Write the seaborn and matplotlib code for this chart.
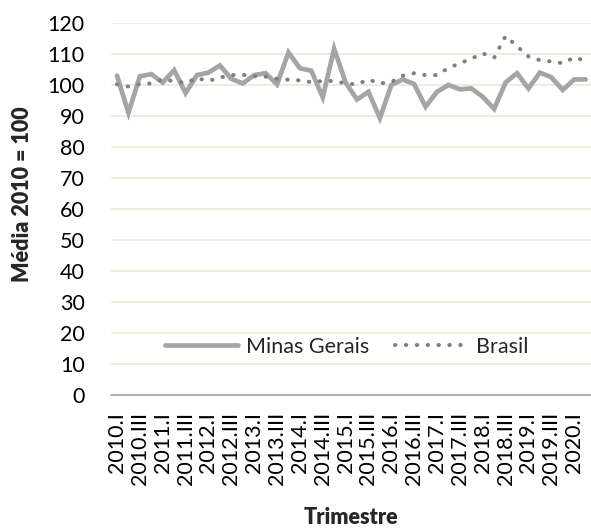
import matplotlib
matplotlib.use("Agg")
import matplotlib.pyplot as plt
import seaborn as sns
import pandas as pd
import numpy as np

years = list(range(2010, 2021))
romans = ["I", "II", "III", "IV"]
quarters = [f"{y}.{r}" for y in years for r in romans][:42]

minas = [103.0, 91.0, 102.8, 103.5, 100.8, 104.8, 97.4, 103.2, 104.0, 106.3,
         102.0, 100.5, 103.2, 103.8, 100.2, 110.5, 105.4, 104.6, 96.0, 111.7,
         100.8, 95.3, 97.8, 89.3, 100.0, 101.8, 100.3, 93.0, 97.8, 100.0,
         98.6, 98.9, 96.2, 92.3, 100.8, 103.8, 98.9, 104.0, 102.5, 98.4,
         101.8, 101.8]
brasil = [100.2, 99.5, 100.3, 100.5, 101.8, 101.2, 100.7, 102.2, 101.3, 102.4,
          103.2, 103.3, 102.8, 102.7, 102.0, 101.7, 101.5, 100.9, 101.3, 101.3,
          100.5, 100.2, 101.8, 100.5, 101.0, 103.0, 103.8, 103.2, 103.2, 105.5,
          107.0, 108.5, 110.2, 108.8, 115.8, 112.5, 109.2, 108.0, 107.6, 107.0,
          108.9, 107.8]

series_names = ["Minas Gerais", "Brasil"]
yticks = list(range(0, 121, 10))

df = pd.DataFrame({
    "idx": list(range(len(quarters))) * 2,
    "valor": minas + brasil,
    "serie": [series_names[0]] * len(minas) + [series_names[1]] * len(brasil),
})

sns.set_theme(style="white")
plt.rcParams["font.family"] = ["Lato", "DejaVu Sans"]

fig = plt.figure(figsize=(5.91, 5.28), dpi=100)
ax = fig.add_axes([111.3 / 591, 1 - 395 / 528, 480 / 591, 372 / 528])

sns.lineplot(data=df, x="idx", y="valor", hue="serie", style="serie",
             palette={"Minas Gerais": "#a5a5a5", "Brasil": "#7f7f7f"},
             dashes={"Minas Gerais": "", "Brasil": (0.1, 2.6)},
             ax=ax, legend=False)
lines = ax.get_lines()
lines[0].set_linewidth(3.4)
lines[0].set_solid_joinstyle("miter")
lines[1].set_linewidth(2.9)
lines[1].set_dash_capstyle("round")

ax.set_xlim(-0.5, len(quarters) - 0.5)
ax.set_ylim(0, 120)
ax.set_yticks(yticks)
ax.set_yticklabels([str(v) for v in yticks], fontsize=15.5, color="#000000")
ax.set_xticks(list(range(0, len(quarters), 2)))
ax.set_xticklabels(quarters[::2], rotation=90, fontsize=15.5, color="#000000")
ax.tick_params(axis="y", length=0, pad=19)
ax.tick_params(axis="x", length=0, pad=12)

ax.grid(axis="y", color="#efe9dc", linewidth=1.3)
ax.set_axisbelow(True)
for s in ["left", "right", "top"]:
    ax.spines[s].set_visible(False)
ax.spines["bottom"].set_color("#a6a6a6")
ax.spines["bottom"].set_linewidth(1.2)
ax.spines["bottom"].set_zorder(1)

ax.set_ylabel("Média 2010 = 100", fontsize=15.5, fontweight="heavy")
ax.yaxis.set_label_coords(-0.184, 0.54)
ax.set_xlabel("Trimestre", fontsize=15.5, fontweight="heavy")
ax.xaxis.set_label_coords(0.50, -0.328)
ax.xaxis.label.set_va("center")
ax.yaxis.label.set_va("center")

leg = ax.legend(lines, series_names, loc="center", bbox_to_anchor=(0.49, 0.129),
                ncol=2, frameon=False, fontsize=15.5, handlelength=3.4,
                handletextpad=0.35, columnspacing=1.2)

fig.savefig("out.png", dpi=100)
